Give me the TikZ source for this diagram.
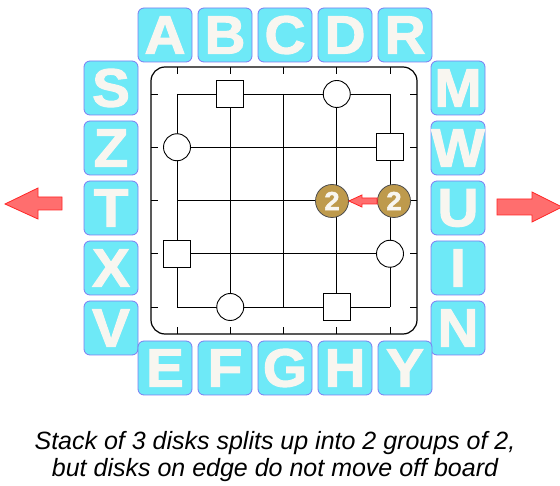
\documentclass[tikz,border=0pt]{standalone}
\usepackage{fontspec}
\setmainfont{Liberation Sans}
\newfontfamily\tilefont{Liberation Sans Bold}[FakeBold=2,FakeStretch=1.05]
\usetikzlibrary{positioning,calc}

\definecolor{tilecyan}{HTML}{6EE9F7}
\definecolor{tileedge}{HTML}{7C7CF2}
\definecolor{tiletext}{HTML}{F8F6F0}
\definecolor{diskgold}{HTML}{BE9A4C}
\definecolor{arrowfill}{HTML}{FF6E6E}
\definecolor{arrowedge}{HTML}{FF2626}

\begin{document}
\begin{tikzpicture}[x=1pt,y=1pt,node distance=60pt,thick,
  tile/.style={draw=tileedge,fill=tilecyan,rounded corners=6pt,minimum width=54pt,minimum height=54pt,inner sep=0pt,text=tiletext,font=\fontsize{54}{54}\tilefont},
  board/.style={draw=black,line width=1.2pt,rounded corners=14pt},
  gridline/.style={draw=black,line width=0.9pt},
  sqpiece/.style={rectangle,draw=black,fill=white,line width=0.9pt,minimum size=27pt,inner sep=0pt},
  rdpiece/.style={circle,draw=black,fill=white,line width=0.9pt,minimum size=27pt,inner sep=0pt},
  disk/.style={circle,draw=black!70,fill=diskgold,line width=0.8pt,minimum size=33pt,inner sep=0pt,text=tiletext,font=\fontsize{26}{26}\tilefont},
  bigarrow/.style={fill=arrowfill,draw=arrowedge,line width=0.8pt},
  caption/.style={align=center,font=\fontsize{25}{27}\selectfont\itshape}]
  \useasboundingbox (0,0) rectangle (560,-486);

  % letter tiles round the board
  \node[tile] (A) at (165,-35) {A};
  \node[tile] (B) [right of = A] {B};
  \node[tile] (C) [right of = B] {C};
  \node[tile] (D) [right of = C] {D};
  \node[tile] (R) [right of = D] {R};

  \node[tile] (S) at (111,-88) {S};
  \node[tile] (Z) [below of = S] {Z};
  \node[tile] (T) [below of = Z] {T};
  \node[tile] (X) [below of = T] {X};
  \node[tile] (V) [below of = X] {V};

  \node[tile] (M) at (458,-88) {M};
  \node[tile] (W) [below of = M] {W};
  \node[tile] (U) [below of = W] {U};
  \node[tile] (I) [below of = U] {I};
  \node[tile] (N) [below of = I] {N};

  \node[tile] (E) at (165,-368) {E};
  \node[tile] (F) [right of = E] {F};
  \node[tile] (G) [right of = F] {G};
  \node[tile] (H) [right of = G] {H};
  \node[tile] (Y) [right of = H] {Y};

  % board, grid and ticks
  \draw[board] (151,-67) rectangle (417,-334);
  \foreach \i in {0,...,4} {
    \draw[gridline] (177+53.25*\i,-94) -- (177+53.25*\i,-307);
    \draw[gridline] (177,-94-53.25*\i) -- (390,-94-53.25*\i);
    \draw[gridline] (177+53.25*\i,-67) -- ++(0,-7);
    \draw[gridline] (177+53.25*\i,-334) -- ++(0,7);
    \draw[gridline] (151,-94-53.25*\i) -- ++(7,0);
    \draw[gridline] (417,-94-53.25*\i) -- ++(-7,0);
  }

  % pieces on the edge
  \node[sqpiece] (sq1) at (230.25,-94) {};
  \node[rdpiece] (rd1) at (336.75,-94) {};
  \node[rdpiece] (rd2) at (177,-147.25) {};
  \node[sqpiece] (sq2) at (390,-147.25) {};
  \node[sqpiece] (sq3) at (177,-253.75) {};
  \node[rdpiece] (rd3) at (390,-253.75) {};
  \node[rdpiece] (rd4) at (230.25,-307) {};
  \node[sqpiece] (sq4) at (336.75,-307) {};

  % the two stacks of 2
  \node[disk] (d1) at (332,-201) {2};
  \node[disk] (d2) at (394,-201) {2};
  \filldraw[bigarrow] (d1.east) -- ++(13,6) -- ++(0,-3) -- ($(d2.west)+(0,3)$)
    -- ($(d2.west)+(0,-3)$) -- ($(d1.east)+(13,-3)$) -- ++(0,-3) -- cycle;

  % off-board arrows
  \filldraw[bigarrow] (5,-204) -- (38,-188) -- (38,-197) -- (62,-197) -- (62,-210) -- (38,-210) -- (38,-219) -- cycle;
  \filldraw[bigarrow] (562,-207) -- (532,-192) -- (532,-199) -- (497,-199) -- (497,-215) -- (532,-215) -- (532,-222) -- cycle;

  \node[caption] (cap) at (275,-457) {Stack of 3 disks splits up into 2 groups of 2,\\ but disks on edge do not move off board};
\end{tikzpicture}
\end{document}
